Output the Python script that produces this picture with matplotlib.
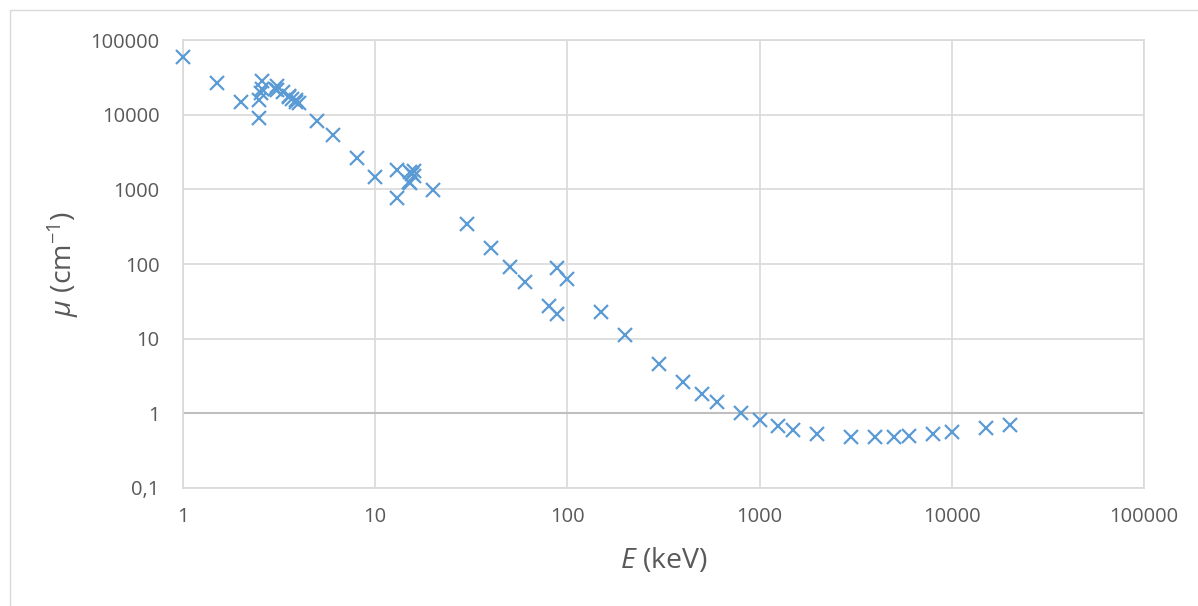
import matplotlib
matplotlib.use("Agg")
from matplotlib import pyplot as plt
from matplotlib.patches import Rectangle
from matplotlib.ticker import FixedLocator, NullLocator

# photon energy (keV) and attenuation coefficient (cm^-1)
energy = [1, 1.5, 2, 2.484, 2.484, 2.534, 2.586, 2.586, 3, 3.066, 3.066, 3.301,
          3.554, 3.554, 3.699, 3.851, 3.851, 4, 5, 6, 8, 10, 13.04, 13.04, 15,
          15.2, 15.2, 15.53, 15.86, 15.86, 20, 30, 40, 50, 60, 80, 88, 88, 100,
          150, 200, 300, 400, 500, 600, 800, 1000, 1250, 1500, 2000, 3000, 4000,
          5000, 6000, 8000, 10000, 15000, 20000]
mu = [59100, 26700, 14600, 9090, 15900, 19600, 22100, 27900, 22300, 21100, 24400, 20400,
      17000, 18000, 16400, 14900, 15500, 14200, 8290, 5300, 2600, 1480, 761, 1840, 1270,
      1220, 1690, 1610, 1530, 1760, 980, 344, 163, 91.3, 57.0, 27.5, 21.7, 87.2, 63.0,
      22.9, 11.3, 4.58, 2.64, 1.83, 1.42, 1.01, 0.806, 0.667, 0.593, 0.523, 0.481, 0.476,
      0.485, 0.498, 0.531, 0.564, 0.642, 0.704]

x_ticks = [1, 10, 100, 1000, 10000, 100000]
x_labels = ["1", "10", "100", "1000", "10000", "100000"]
y_ticks = [0.1, 1, 10, 100, 1000, 10000, 100000]
y_labels = ["0,1", "1", "10", "100", "1000", "10000", "100000"]

plt.rcParams["font.family"] = ["Open Sans", "DejaVu Sans"]
plt.rcParams["mathtext.fontset"] = "custom"
plt.rcParams["mathtext.it"] = "Open Sans:italic"
plt.rcParams["mathtext.rm"] = "Open Sans"

W, H = 1198, 606
fig = plt.figure(figsize=(W / 100, H / 100), dpi=100)
ax = fig.add_axes([183 / W, 1 - 488 / H, (1144 - 183) / W, (488 - 40) / H])

grid_c = "#D9D9D9"
txt_c = "#595959"

ax.set_xscale("log")
ax.set_yscale("log")
ax.set_xlim(1, 100000)
ax.set_ylim(0.1, 100000)
ax.xaxis.set_major_locator(FixedLocator(x_ticks))
ax.yaxis.set_major_locator(FixedLocator(y_ticks))
ax.xaxis.set_minor_locator(NullLocator())
ax.yaxis.set_minor_locator(NullLocator())
ax.set_xticklabels(x_labels)
ax.set_yticklabels(y_labels)
ax.tick_params(length=0, labelsize=14.5, colors=txt_c)
ax.tick_params(axis="x", pad=14)
ax.tick_params(axis="y", pad=17)

ax.grid(True, color=grid_c, lw=1.2)
ax.set_axisbelow(True)
for s in ax.spines.values():
    s.set_color(grid_c)
    s.set_linewidth(1.2)
ax.axhline(1, color="#BFBFBF", lw=1.5, zorder=1)

ax.plot(energy, mu, "x", color="#5B9BD5", markersize=10, mew=1.6, clip_on=False, zorder=3)

ax.set_xlabel(r"$\mathit{E}$ (keV)", fontsize=20.5, color=txt_c, labelpad=13)
ax.set_ylabel(r"$\mathit{\mu}$ (cm$^{-1}$)", fontsize=20.5, color=txt_c, labelpad=7)

# chart area border
fig.add_artist(Rectangle((10 / W, -0.2), 1.2, 1.2 - 10 / H, transform=fig.transFigure,
                         fill=False, edgecolor=grid_c, lw=1))

fig.savefig("out.png", dpi=100)
